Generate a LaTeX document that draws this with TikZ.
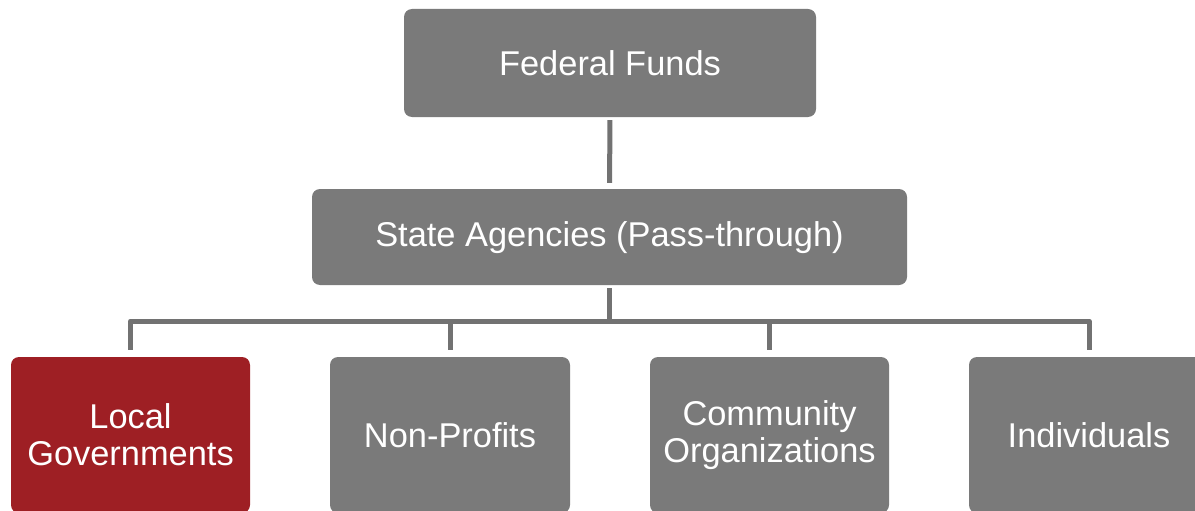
\documentclass[tikz,border=0pt]{standalone}
\usepackage{fontspec}
\setmainfont{Liberation Sans}
\definecolor{boxgray}{HTML}{7A7A7A}
\definecolor{linegray}{HTML}{727272}
\definecolor{boxred}{HTML}{9E1F24}
\begin{document}
\begin{tikzpicture}[x=1pt,y=-1pt,
  box/.style={draw=none, fill=boxgray, rounded corners=8pt, text=white, align=center,
    inner sep=0pt, font=\fontsize{34.4}{37}\selectfont},
  redbox/.style={box, fill=boxred},
  link/.style={draw=linegray, line width=5pt, line join=round}]
\useasboundingbox (0,0) rectangle (1195,511);
\clip (0,0) rectangle (1195,511);
\node[box, minimum width=412pt, minimum height=108pt] (fed) at (610,63) {Federal Funds};
\node[box, minimum width=595pt, minimum height=96pt, text height=25pt, text depth=7pt] (state) at (609.5,237) {State Agencies (Pass-through)};
\node[redbox, minimum width=239pt, minimum height=156pt] (local) at (130.5,435) {Local\\Governments};
\node[box, minimum width=240pt, minimum height=156pt] (nonprof) at (450,435) {Non-Profits};
\node[box, minimum width=239pt, minimum height=156pt] (comm) at (769.5,435) {Community\\Organizations};
\node[box, minimum width=240pt, minimum height=156pt] (indiv) at (1089,435) {Individuals};
\coordinate (hub) at (609.5,321);
\draw[link, shorten <=3pt, shorten >=6pt] (fed.south) -- (state.north);
\draw[link, shorten <=3pt] (state.south) -- (hub);
\draw[link, shorten >=7pt] (hub) -| (local.north);
\draw[link, shorten >=7pt] (hub) -| (nonprof.north);
\draw[link, shorten >=7pt] (hub) -| (comm.north);
\draw[link, shorten >=7pt] (hub) -| (indiv.north);
\end{tikzpicture}
\end{document}
